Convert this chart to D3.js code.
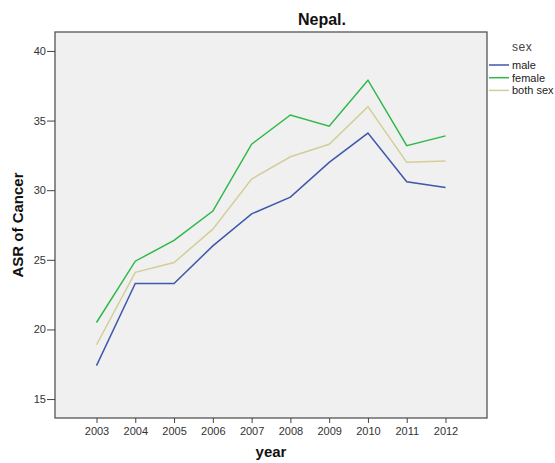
<!DOCTYPE html>
<html>
<head>
<meta charset="utf-8">
<script src="https://cdn.jsdelivr.net/npm/d3@7"></script>
<style>
  body { margin: 0; background: #fff; }
  svg text { font-family: Arial, "Liberation Sans", sans-serif; }
</style>
</head>
<body>
<div id="chart"></div>
<script>
// values
let years = [2003, 2004, 2005, 2006, 2007, 2008, 2009, 2010, 2011, 2012];
let male = [17.4, 23.3, 23.3, 26.0, 28.3, 29.5, 32.0, 34.1, 30.6, 30.2];
let female = [20.5, 24.9, 26.4, 28.5, 33.3, 35.4, 34.6, 37.9, 33.2, 33.9];
let bothSex = [18.9, 24.1, 24.8, 27.2, 30.8, 32.4, 33.3, 36.0, 32.0, 32.1];
let seriesNames = ["male", "female", "both sex"];
let yTicks = [15, 20, 25, 30, 35, 40];

let colors = ["#3E58AC", "#2EB848", "#D3CE97"];

let width = 555, height = 463;
let plot = {left: 55, top: 32, right: 487, bottom: 418};

let svg = d3.select("#chart")
  .append("svg")
    .attr("width", width)
    .attr("height", height);

let xScale = d3.scaleLinear()
  .domain([2001.93, 2013.07])
  .range([plot.left, plot.right]);

let yScale = d3.scaleLinear()
  .domain([13.64, 41.36])
  .range([plot.bottom, plot.top]);

// plot area
svg.append("rect")
  .attr("x", plot.left)
  .attr("y", plot.top)
  .attr("width", plot.right - plot.left)
  .attr("height", plot.bottom - plot.top)
  .attr("fill", "#F0F0F0")
  .attr("stroke", "#555")
  .attr("stroke-width", 1.3);

let xAxis = svg.append("g")
  .attr("transform", "translate(0," + plot.bottom + ")")
  .call(d3.axisBottom(xScale).tickValues(years).tickFormat(d3.format("d")).tickSize(5).tickSizeOuter(0));
xAxis.select(".domain").remove();
xAxis.selectAll("line").attr("stroke", "#444");
xAxis.selectAll("text")
  .attr("fill", "#333")
  .style("font-size", "11px")
  .attr("y", 9);

let yAxis = svg.append("g")
  .attr("transform", "translate(" + plot.left + ",0)")
  .call(d3.axisLeft(yScale).tickValues(yTicks).tickSize(8).tickSizeOuter(0));
yAxis.select(".domain").remove();
yAxis.selectAll("line").attr("stroke", "#444");
yAxis.selectAll("text")
  .attr("fill", "#333")
  .style("font-size", "11px")
  .attr("x", -9);

// lines
let seriesData = [male, female, bothSex];
let line = d3.line()
  .x((d, i) => xScale(years[i]))
  .y(d => yScale(d));

svg.append("g")
  .selectAll("path")
  .data(seriesData)
  .enter()
  .append("path")
    .attr("d", line)
    .attr("fill", "none")
    .attr("stroke", (d, i) => colors[i])
    .attr("stroke-width", 1.5);

// titles
svg.append("text")
  .attr("x", 322)
  .attr("y", 25)
  .attr("text-anchor", "middle")
  .style("font-size", "16px")
  .style("font-weight", "bold")
  .attr("fill", "#111")
  .text("Nepal.");

svg.append("text")
  .attr("x", (plot.left + plot.right) / 2)
  .attr("y", 457)
  .attr("text-anchor", "middle")
  .style("font-size", "15px")
  .style("font-weight", "bold")
  .attr("fill", "#111")
  .text("year");

svg.append("text")
  .attr("transform", "translate(23," + (plot.top + plot.bottom) / 2 + ") rotate(-90)")
  .attr("text-anchor", "middle")
  .style("font-size", "15px")
  .style("font-weight", "bold")
  .attr("fill", "#111")
  .text("ASR of Cancer");

// legend
let legend = svg.append("g");
legend.append("text")
  .attr("x", 512)
  .attr("y", 51)
  .style("font-size", "12px")
  .style("letter-spacing", "0.5px")
  .attr("fill", "#444")
  .text("sex");

let items = legend.selectAll(".item")
  .data(seriesNames)
  .enter()
  .append("g")
    .attr("class", "item")
    .attr("transform", (d, i) => "translate(0," + (65 + i * 12.7) + ")");

items.append("line")
  .attr("x1", 489)
  .attr("x2", 509)
  .attr("stroke", (d, i) => colors[i])
  .attr("stroke-width", 1.5);

items.append("text")
  .attr("x", 512)
  .attr("y", 4)
  .style("font-size", "11px")
  .attr("fill", "#222")
  .text(d => d);
</script>
</body>
</html>
